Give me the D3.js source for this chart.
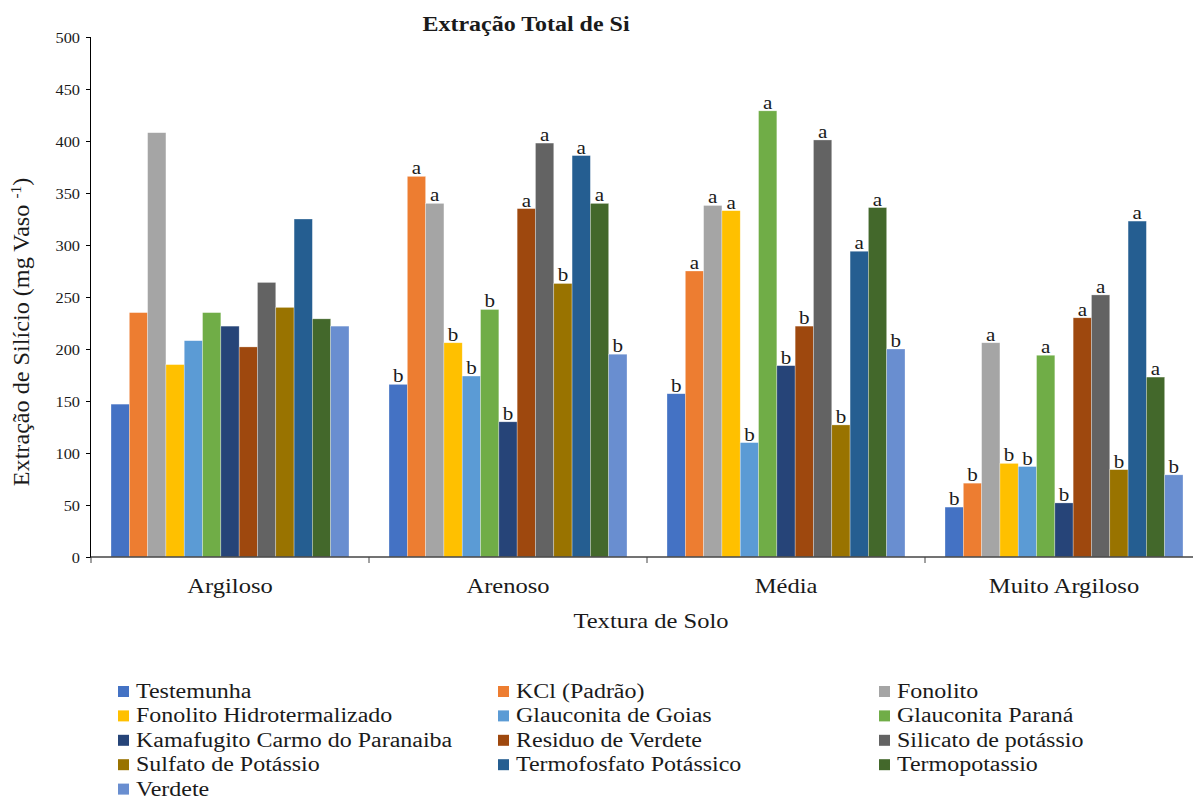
<!DOCTYPE html>
<html lang="pt">
<head>
<meta charset="utf-8">
<script src="https://d3js.org/d3.v7.min.js"></script>
<style>
  body { margin: 0; background: #fff; }
  text { font-family: "Liberation Serif", "Times New Roman", serif; fill: #1a1a1a; }
</style>
</head>
<body>
<svg id="chart" width="1193" height="799"></svg>
<script>
// soil textures (x groups)
var categories = ["Argiloso", "Arenoso", "Média", "Muito Argiloso"];

// treatments (series)
var series = ["Testemunha", "KCl (Padrão)", "Fonolito", "Fonolito Hidrotermalizado",
  "Glauconita de Goias", "Glauconita Paraná", "Kamafugito Carmo do Paranaiba",
  "Residuo de Verdete", "Silicato de potássio", "Sulfato de Potássio",
  "Termofosfato Potássico", "Termopotassio", "Verdete"];

var colors = ["#4472C4", "#ED7D31", "#A5A5A5", "#FFC000", "#5B9BD5", "#70AD47",
  "#264478", "#9E480E", "#636363", "#997300", "#255E91", "#43682B", "#698ED0"];

// values per category, in series order
var argiloso = [147, 235, 408, 185, 208, 235, 222, 202, 264, 240, 325, 229, 222];
var arenoso  = [166, 366, 340, 206, 174, 238, 130, 335, 398, 263, 386, 340, 195];
var media    = [157, 275, 338, 333, 110, 429, 184, 222, 401, 127, 294, 336, 200];
var muitoArg = [48, 71, 206, 90, 87, 194, 52, 230, 252, 84, 323, 173, 79];
var values = [argiloso, arenoso, media, muitoArg];

// significance letters
var lettersArg = ["", "", "", "", "", "", "", "", "", "", "", "", ""];
var lettersAre = ["b", "a", "a", "b", "b", "b", "b", "a", "a", "b", "a", "a", "b"];
var lettersMed = ["b", "a", "a", "a", "b", "a", "b", "b", "a", "b", "a", "a", "b"];
var lettersMui = ["b", "b", "a", "b", "b", "a", "b", "a", "a", "b", "a", "a", "b"];
var letters = [lettersArg, lettersAre, lettersMed, lettersMui];

var yTicks = [0, 50, 100, 150, 200, 250, 300, 350, 400, 450, 500];

var svg = d3.select("#chart");
var plotLeft = 91, plotRight = 1203, plotTop = 37, plotBottom = 557;
var sx = 1.17; // the original figure's text is stretched horizontally

function place(sel, x, y) {
  return sel.attr("transform", "translate(" + x + "," + y + ") scale(" + sx + ",1)");
}

var x0 = d3.scaleBand().domain(categories).range([plotLeft, plotRight]);
var x1 = d3.scaleBand().domain(series).range([20, x0.bandwidth() - 20]);
var y = d3.scaleLinear().domain([0, 500]).range([plotBottom, plotTop]);

// title
place(svg.append("text"), 526, 31).attr("text-anchor", "middle")
  .style("font-weight", "bold").style("font-size", "20.5px").text("Extração Total de Si");

// bars
var groups = svg.append("g").selectAll("g").data(categories).enter().append("g")
  .attr("transform", function (d) { return "translate(" + x0(d) + ",0)"; });

groups.each(function (cat, ci) {
  var g = d3.select(this);
  var rows = series.map(function (s, si) { return { s: s, v: values[ci][si], l: letters[ci][si], c: colors[si] }; });
  g.selectAll("rect").data(rows).enter().append("rect")
    .attr("x", function (d) { return x1(d.s); })
    .attr("width", x1.bandwidth())
    .attr("y", function (d) { return y(d.v); })
    .attr("height", function (d) { return y(0) - y(d.v); })
    .attr("fill", function (d) { return d.c; })
    .attr("stroke", "#ffffff").attr("stroke-opacity", 0.5).attr("stroke-width", 0.6);
  g.selectAll("text.lbl").data(rows).enter().append("text").attr("class", "lbl")
    .attr("transform", function (d) {
      return "translate(" + (x1(d.s) + x1.bandwidth() / 2) + "," + (y(d.v) - 2) + ") scale(" + sx + ",1)";
    })
    .attr("text-anchor", "middle").style("font-size", "18px")
    .text(function (d) { return d.l; });
});

// y axis
var yAxis = d3.axisLeft(y).tickValues(yTicks).tickSize(5).tickPadding(6);
var ya = svg.append("g").attr("transform", "translate(" + plotLeft + ",0)").call(yAxis);
ya.select(".domain").attr("stroke", "#000").attr("d", "M-0.5," + plotTop + "V" + plotBottom);
ya.selectAll(".tick line").attr("stroke", "#000");
ya.selectAll(".tick text")
  .attr("x", null).attr("dy", null)
  .attr("transform", "translate(-11,5) scale(" + sx + ",1)")
  .style("font-size", "14px").style("font-family", "Liberation Serif, serif").attr("fill", "#333");

// x axis
var xa = svg.append("g").attr("transform", "translate(0," + plotBottom + ")");
xa.append("line").attr("x1", plotLeft).attr("x2", plotRight).attr("stroke", "#444").attr("stroke-width", 1.3);
xa.selectAll("line.t").data(d3.range(categories.length + 1)).enter().append("line").attr("class", "t")
  .attr("x1", function (i) { return plotLeft + i * x0.bandwidth(); })
  .attr("x2", function (i) { return plotLeft + i * x0.bandwidth(); })
  .attr("y1", 0).attr("y2", 6).attr("stroke", "#444");
xa.selectAll("text").data(categories).enter().append("text")
  .attr("transform", function (d) { return "translate(" + (x0(d) + x0.bandwidth() / 2) + ",36) scale(" + sx + ",1)"; })
  .attr("text-anchor", "middle").style("font-size", "21px")
  .text(function (d) { return d; });

place(svg.append("text"), 651, 628).attr("text-anchor", "middle")
  .style("font-size", "21px").text("Textura de Solo");

// y title
var yt = svg.append("text").attr("transform", "translate(29,332) rotate(-90) scale(1.18,1.1)")
  .attr("text-anchor", "middle").style("font-size", "20.5px");
yt.append("tspan").text("Extração de Silício (mg Vaso ");
yt.append("tspan").attr("dy", -7).style("font-size", "13px").text("-1");
yt.append("tspan").attr("dy", 7).text(")");

// legend
var colX = [118, 498, 879];
var legend = svg.append("g").selectAll("g").data(series).enter().append("g")
  .attr("transform", function (d, i) { return "translate(" + colX[i % 3] + "," + (692 + Math.floor(i / 3) * 24.4) + ")"; });
legend.append("rect").attr("x", 0).attr("y", -6).attr("width", 11).attr("height", 11)
  .attr("fill", function (d, i) { return colors[i]; });
legend.append("text").attr("transform", "translate(18,6) scale(" + sx + ",1)")
  .style("font-size", "20.5px").text(function (d) { return d; });
</script>
</body>
</html>
